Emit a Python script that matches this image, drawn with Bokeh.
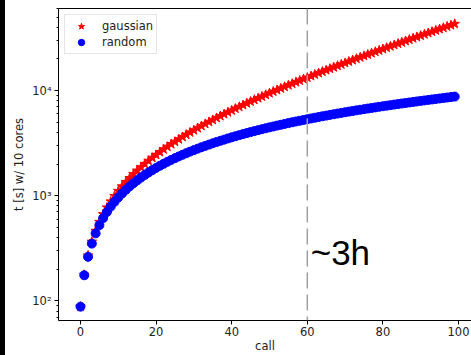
import json
from bokeh.plotting import figure
from bokeh.models import FixedTicker, Span, LinearAxis, Div, Label, CustomJSTickFormatter
from bokeh.layouts import row
from bokeh.embed import file_html
from bokeh.resources import INLINE

calls = list(range(100))

gaussian = [
    88, 177, 270, 365, 463, 563, 666, 772, 881, 993,
    1108, 1226, 1347, 1472, 1600, 1731, 1866, 2005, 2148, 2294,
    2445, 2599, 2758, 2921, 3088, 3260, 3436, 3618, 3804, 3995,
    4192, 4393, 4600, 4813, 5031, 5255, 5485, 5722, 5964, 6213,
    6468, 6731, 7001, 7277, 7561, 7853, 8153, 8460, 8776, 9100,
    9432, 9773, 10124, 10483, 10853, 11232, 11621, 12021, 12431, 12853,
    13285, 13728, 14184, 14652, 15132, 15625, 16131, 16650, 17183, 17731,
    18292, 18869, 19462, 20069, 20694, 21335, 21992, 22667, 23361, 24072,
    24803, 25553, 26323, 27113, 27926, 28758, 29614, 30493, 31395, 32321,
    33270, 34246, 35248, 36276, 37332, 38417, 39530, 40673, 41847, 43054,
]

random_t = [
    88, 175, 262, 350, 438, 525, 612, 700, 788, 875,
    962, 1050, 1138, 1225, 1312, 1400, 1488, 1575, 1662, 1750,
    1838, 1925, 2012, 2100, 2188, 2275, 2362, 2450, 2538, 2625,
    2712, 2800, 2888, 2975, 3062, 3150, 3238, 3325, 3412, 3500,
    3588, 3675, 3762, 3850, 3938, 4025, 4112, 4200, 4288, 4375,
    4462, 4550, 4638, 4725, 4812, 4900, 4988, 5075, 5162, 5250,
    5338, 5425, 5512, 5600, 5688, 5775, 5862, 5950, 6038, 6125,
    6212, 6300, 6388, 6475, 6562, 6650, 6738, 6825, 6912, 7000,
    7088, 7175, 7262, 7350, 7438, 7525, 7612, 7700, 7788, 7875,
    7962, 8050, 8138, 8225, 8312, 8400, 8488, 8575, 8662, 8750,
]

x_ticks = [0, 20, 40, 60, 80, 100]
y_ticks = [100, 1000, 10000]
y_tick_labels = {100: "10²", 1000: "10³", 10000: "10⁴"}
y_minor_ticks = [70, 80, 90,
                 200, 300, 400, 500, 600, 700, 800, 900,
                 2000, 3000, 4000, 5000, 6000, 7000, 8000, 9000,
                 20000, 30000, 40000, 50000, 60000]
marker_call = 60
note_text = "~3h"
x_label = "call"
y_label = "t [s] w/ 10 cores"

FONT = "DejaVu Sans"
FS = "11.5px"

p = figure(width=466, height=355,
           x_range=(-5.82, 103.44), y_range=(65.0, 60260),
           y_axis_type="log",
           output_backend="svg", toolbar_location=None,
           min_border_left=53, min_border_right=0,
           min_border_top=8, min_border_bottom=35,
           margin=0)

p.outline_line_color = None
p.grid.visible = False
p.background_fill_color = "white"
p.border_fill_color = "white"

p.scatter(calls, gaussian, marker="star", size=10, color="#ff0000",
          legend_label="gaussian")
p.scatter(calls, random_t, marker="circle", size=9, color="#0000ff",
          legend_label="random")

# x axis
xa = p.xaxis[0]
xa.ticker = FixedTicker(ticks=x_ticks)
xa.axis_label = x_label
# y axis
ya = p.yaxis[0]
ya.ticker = FixedTicker(ticks=y_ticks, minor_ticks=y_minor_ticks)
label_map = json.dumps({str(k): v for k, v in y_tick_labels.items()})
ya.formatter = CustomJSTickFormatter(
    code="const m = " + label_map + "; const k = String(Math.round(tick)); return (k in m) ? m[k] : '';")
ya.axis_label = y_label

for ax in (xa, ya):
    ax.axis_line_color = "black"
    ax.axis_line_width = 1
    ax.major_tick_line_color = "black"
    ax.minor_tick_line_color = "black"
    ax.major_tick_out = 4
    ax.major_tick_in = 0
    ax.minor_tick_out = 2
    ax.minor_tick_in = 0
    ax.major_label_text_font = FONT
    ax.major_label_text_font_size = FS
    ax.major_label_text_color = "#222222"
    ax.major_label_text_line_height = 1.0
    ax.axis_label_text_font = FONT
    ax.axis_label_text_font_size = FS
    ax.axis_label_text_font_style = "normal"
    ax.axis_label_text_color = "#222222"
    ax.axis_label_text_line_height = 1.0
xa.major_label_standoff = 2
xa.axis_label_standoff = 0
ya.major_label_standoff = 3
ya.axis_label_standoff = 3

top_axis = LinearAxis(ticker=FixedTicker(ticks=[]),
                      major_label_text_font_size="0px",
                      major_tick_out=0, major_tick_in=0,
                      minor_tick_out=0, minor_tick_in=0,
                      major_label_standoff=0,
                      axis_line_color="black", axis_line_width=1)
p.add_layout(top_axis, "above")

p.add_layout(Span(location=marker_call, dimension="height",
                  line_color="#a0a0a0", line_width=1.5, line_dash="16 6"))

p.add_layout(Label(x=60.9, y=288, text=note_text,
                   text_font="Liberation Sans", text_font_size="35px",
                   text_color="black", text_baseline="middle",
                   text_align="left"))

lg = p.legend[0]
lg.location = "top_left"
lg.margin = 6
lg.padding = 3
lg.spacing = 0
lg.label_height = 16
lg.glyph_height = 16
lg.glyph_width = 26
lg.label_standoff = 8
lg.label_text_font = FONT
lg.label_text_font_size = FS
lg.label_text_line_height = 1.0
lg.label_text_color = "#222222"
lg.border_line_color = "#cccccc"
lg.border_line_width = 1
lg.background_fill_alpha = 0.8

strip = Div(width=5, height=355, margin=0,
            styles={"background-color": "black"})
layout = row(strip, p, spacing=0, margin=0)

open("out.html", "w").write(file_html(layout, INLINE))
